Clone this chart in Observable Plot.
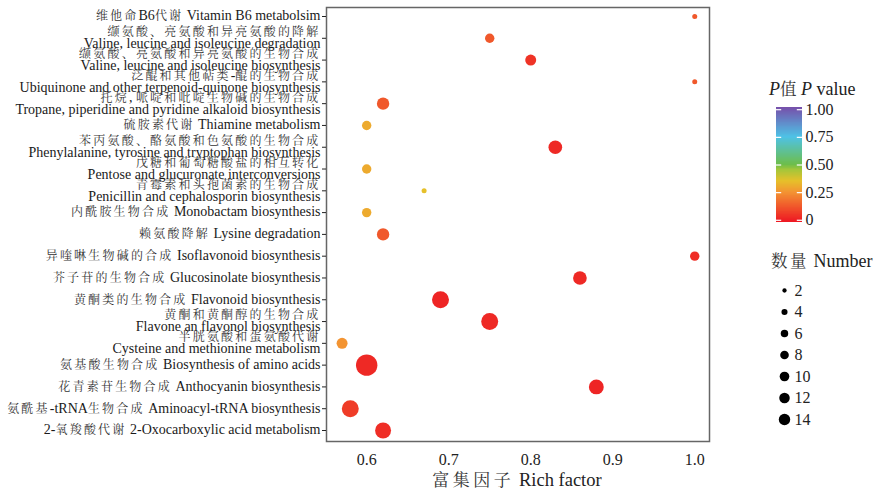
<!DOCTYPE html>
<html>
<head>
<meta charset="utf-8">
<script src="https://cdn.jsdelivr.net/npm/d3@7"></script>
<script src="https://cdn.jsdelivr.net/npm/@observablehq/plot@0.6"></script>
<style>
  html, body { margin: 0; padding: 0; background: white; }
  #wrap { position: relative; width: 881px; height: 491px; overflow: hidden;
          font-family: "Liberation Serif", "Noto Serif CJK SC", "Noto Sans CJK SC", serif; color: #222; }
  #wrap > * { position: absolute; }
  .ttl { font-size: 18px; white-space: nowrap; color: #222; }
  .cjk { font-size: 16.5px; letter-spacing: 2.5px; color: #333; }
</style>
</head>
<body>
<div id="wrap"></div>
<script>
const FONT = '"Liberation Serif", "Noto Serif CJK SC", "Noto Sans CJK SC", serif';

// Pathway labels (top to bottom), "\n" separates two-line labels
const pathways = [
  "维他命B6代谢 Vitamin B6 metabolsim",
  "缬氨酸、亮氨酸和异亮氨酸的降解\nValine, leucine and isoleucine degradation",
  "缬氨酸、亮氨酸和异亮氨酸的生物合成\nValine, leucine and isoleucine biosynthesis",
  "泛醌和其他萜类-醌的生物合成\nUbiquinone and other terpenoid-quinone biosynthesis",
  "托烷, 哌啶和吡啶生物碱的生物合成\nTropane, piperidine and pyridine alkaloid biosynthesis",
  "硫胺素代谢 Thiamine metabolism",
  "苯丙氨酸、酪氨酸和色氨酸的生物合成\nPhenylalanine, tyrosine and tryptophan biosynthesis",
  "戊糖和葡萄糖酸盐的相互转化\nPentose and glucuronate interconversions",
  "青霉素和头孢菌素的生物合成\nPenicillin and cephalosporin biosynthesis",
  "内酰胺生物合成 Monobactam biosynthesis",
  "赖氨酸降解 Lysine degradation",
  "异喹啉生物碱的合成 Isoflavonoid biosynthesis",
  "芥子苷的生物合成 Glucosinolate biosynthesis",
  "黄酮类的生物合成 Flavonoid biosynthesis",
  "黄酮和黄酮醇的生物合成\nFlavone an flavonol biosynthesis",
  "半胱氨酸和蛋氨酸代谢\nCysteine and methionine metabolism",
  "氨基酸生物合成 Biosynthesis of amino acids",
  "花青素苷生物合成 Anthocyanin biosynthesis",
  "氨酰基-tRNA生物合成 Aminoacyl-tRNA biosynthesis",
  "2-氧羧酸代谢 2-Oxocarboxylic acid metabolism"
];
const richFactor = [1.0, 0.75, 0.80, 1.0, 0.62, 0.60, 0.83, 0.60, 0.67, 0.60,
                    0.62, 1.0, 0.86, 0.69, 0.75, 0.57, 0.60, 0.88, 0.58, 0.62];
const geneNumber = [1, 3, 4, 1, 5, 3, 6, 3, 1, 3,
                    5, 3, 6, 9, 9, 4, 14, 7, 9, 8];
const pValue = [0.12, 0.12, 0.04, 0.12, 0.12, 0.30, 0.02, 0.30, 0.35, 0.30,
                0.12, 0.03, 0.02, 0.01, 0.02, 0.25, 0.02, 0.01, 0.06, 0.03];

const xTicks = [0.6, 0.7, 0.8, 0.9, 1.0];
const pTicks = [0, 0.25, 0.5, 0.75, 1.0];
const pTickLabels = ["0", "0.25", "0.50", "0.75", "1.00"];
const sizeBreaks = [2, 4, 6, 8, 10, 12, 14];

const pStops = [0, 0.25, 0.35, 0.45, 0.5, 0.75, 1];
const pColors = ["#EE2024", "#F39432", "#E6C02A", "#A5C63A", "#6DBE4B", "#4EC2E6", "#7456AE"];
const colorScale = {type: "linear", domain: pStops, range: pColors, interpolate: "rgb"};

const rows = pathways.map((p, i) => ({pathway: p, rich: richFactor[i], count: geneNumber[i], p: pValue[i]}));

const wrap = document.getElementById("wrap");
const SVGNS = "http://www.w3.org/2000/svg";
const CJK_RUN = /([\u3000-\u303f\u3400-\u9fff\uff00-\uffef]+)/;

// Render CJK runs slightly smaller and letter-spaced, like the reference's Song-style glyphs
function styleMixed(textEl, cjkSize, spacing) {
  const lines = textEl.querySelectorAll("tspan");
  const targets = lines.length ? Array.from(lines) : [textEl];
  for (const t of targets) {
    const s = t.textContent;
    t.textContent = "";
    for (const part of s.split(CJK_RUN)) {
      if (!part) continue;
      const ts = document.createElementNS(SVGNS, "tspan");
      ts.textContent = part;
      if (CJK_RUN.test(part)) {
        ts.setAttribute("font-size", cjkSize);
        ts.setAttribute("letter-spacing", spacing);
        ts.setAttribute("fill", "#333");
      }
      t.appendChild(ts);
    }
  }
}

// Main chart
const main = Plot.plot({
  width: 730, height: 491,
  marginLeft: 326, marginRight: 21, marginTop: 7, marginBottom: 50,
  style: {fontFamily: FONT, background: "white", color: "#222", overflow: "visible"},
  x: {domain: [0.551, 1.018]},
  y: {type: "point", domain: pathways, range: [16, 430], padding: 0, round: false},
  r: {type: "pow", exponent: 0.5, domain: [1, 14], range: [2.5, 10.7]},
  color: colorScale,
  marks: [
    Plot.frame({stroke: "#666", strokeWidth: 1.5}),
    Plot.axisY({tickSize: 4, tickFormat: () => "", label: null, stroke: "#222"}),
    Plot.text(pathways, {y: d => d, text: d => d, frameAnchor: "left", textAnchor: "end", dx: -6,
                         fontSize: 14, lineHeight: 0.86, fill: "#1a1a1a", className: "pathlabel"}),
    Plot.axisX({ticks: xTicks, tickFormat: d3.format(".1f"), tickSize: 0, tickPadding: 12, fontSize: 16, label: null}),
    Plot.dot(rows, {x: "rich", y: "pathway", r: "count", fill: "p"})
  ]
});
main.style.left = "0px"; main.style.top = "0px";
wrap.appendChild(main);
main.querySelectorAll(".pathlabel text").forEach(t => styleMixed(t, "12px", "2.2px"));

// x label
const xl = document.createElement("div");
xl.className = "ttl";
xl.style.left = "0px"; xl.style.width = "1034px"; xl.style.textAlign = "center";
xl.style.top = "466px"; xl.style.fontSize = "18.5px";
xl.innerHTML = '<span class="cjk" style="font-size:17px;letter-spacing:3.5px">富集因子</span> Rich factor';
wrap.appendChild(xl);

// Colour legend title
const ct = document.createElement("div");
ct.className = "ttl";
ct.style.left = "769px"; ct.style.top = "76px";
ct.innerHTML = '<i>P</i><span class="cjk" style="letter-spacing:0">值</span> <i>P</i> value';
wrap.appendChild(ct);

// Colour bar
const barSteps = d3.range(-0.02, 1.02, 0.004);
const bar = Plot.plot({
  width: 90, height: 131,
  marginLeft: 7, marginRight: 57, marginTop: 8, marginBottom: 8,
  style: {fontFamily: FONT, background: "transparent", color: "#222", overflow: "visible"},
  x: {domain: [0, 1], axis: null},
  y: {domain: [-0.02, 1.02]},
  color: colorScale,
  marks: [
    Plot.rect(barSteps, {x1: 0, x2: 1, y1: d => d, y2: d => d + 0.0045, fill: d => d, shapeRendering: "crispEdges"}),
    Plot.ruleY(pTicks, {x1: 0, x2: 0.2, stroke: "white", strokeWidth: 1.2}),
    Plot.ruleY(pTicks, {x1: 0.8, x2: 1, stroke: "white", strokeWidth: 1.2}),
    Plot.axisY({anchor: "right", ticks: pTicks, tickFormat: (d, i) => pTickLabels[i], tickSize: 0, tickPadding: 3, fontSize: 16, label: null})
  ]
});
bar.style.left = "769px"; bar.style.top = "99px";
wrap.appendChild(bar);

// Size legend title
const st = document.createElement("div");
st.className = "ttl";
st.style.left = "771px"; st.style.top = "248px";
st.innerHTML = '<span class="cjk">数量</span> Number';
wrap.appendChild(st);

// Size legend
const sz = Plot.plot({
  width: 100, height: 160,
  margin: 0,
  style: {fontFamily: FONT, background: "transparent", color: "#222", overflow: "visible"},
  x: {domain: [0, 1], range: [22, 90], axis: null},
  y: {domain: [2, 14], range: [15, 144], axis: null},
  r: {type: "sqrt", domain: [0, 14], range: [0, 5.7]},
  marks: [
    Plot.dot(sizeBreaks, {x: 0, y: d => d, r: d => d, fill: "black"}),
    Plot.text(sizeBreaks, {x: 0, y: d => d, text: d => String(d), dx: 10, textAnchor: "start", fontSize: 16, fill: "#222"})
  ]
});
sz.style.left = "762px"; sz.style.top = "275px";
wrap.appendChild(sz);
</script>
</body>
</html>
